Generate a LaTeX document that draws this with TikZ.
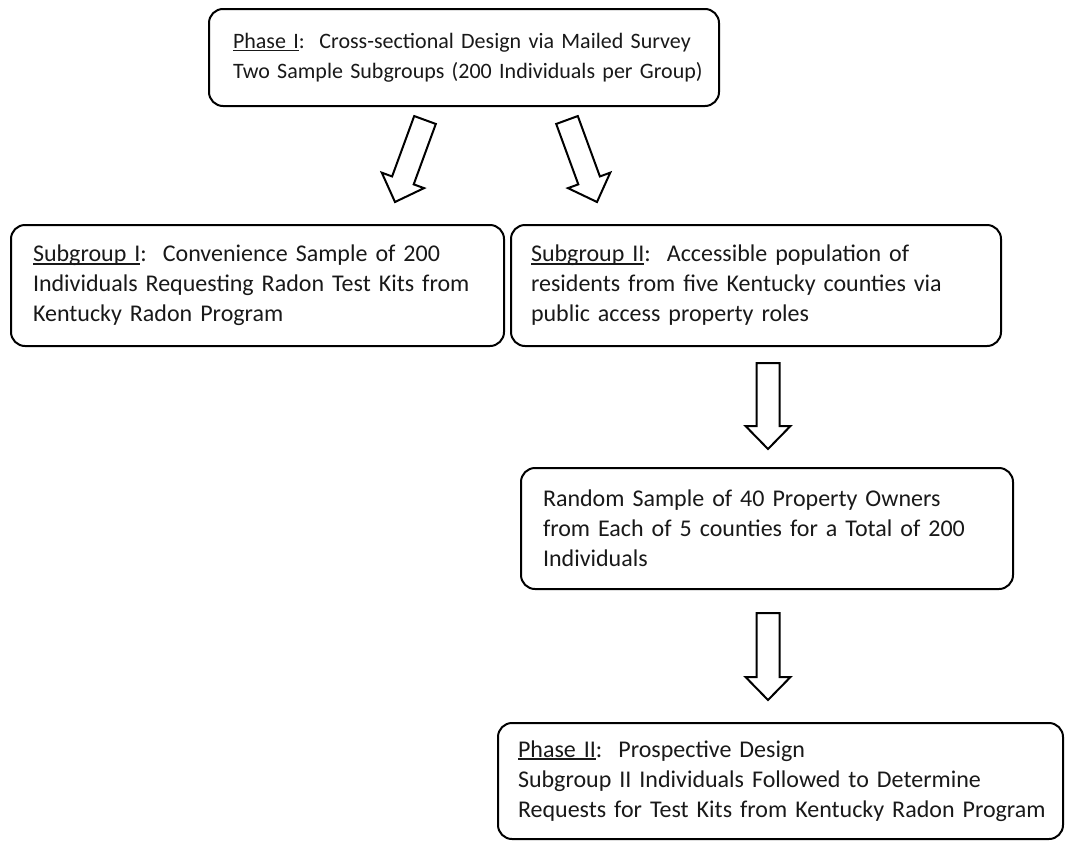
\documentclass[tikz,border=0pt]{standalone}
\usepackage{fontspec}
\setmainfont{Carlito}
\usetikzlibrary{calc}
\newcommand{\myul}[1]{\setbox0\hbox{#1}\rlap{\rule[-2.8pt]{\wd0}{1.6pt}}#1}
\newcommand{\blockarrow}[2]{%
  \coordinate (bh) at ($(#2)!23pt!(#1)$);
  \draw[barrow] ($(#1)!11.5pt!90:(#2)$) -- ($(bh)!11.5pt!90:(#2)$)
    -- ($(bh)!22.5pt!90:(#2)$) -- (#2) -- ($(bh)!22.5pt!-90:(#2)$)
    -- ($(bh)!11.5pt!-90:(#2)$) -- ($(#1)!11.5pt!-90:(#2)$) -- cycle;
}
\begin{document}
\begin{tikzpicture}[x=1pt,y=-1pt,
  box/.style={draw=black, line width=2pt, rounded corners=14pt, align=left,
    inner xsep=22pt, inner ysep=0pt, anchor=north west,
    font=\fontsize{24}{30}\selectfont, text=black!90},
  barrow/.style={draw=black, line width=2pt, fill=white, line join=miter}]
\useasboundingbox (0,0) rectangle (1065,841);
\fill[white] (0,0) rectangle (1065,841);

\node[box, font=\fontsize{22}{29.5}\selectfont, inner xsep=24pt, text width=462pt, minimum height=97pt] (p1) at (208,8)
  {\mbox{\myul{Phase I}:\ \ Cross-sectional Design via Mailed Survey}\\
   \mbox{Two Sample Subgroups (200 Individuals per Group)}};
\node[box, text width=449pt, minimum height=121pt] (s1) at (10,224)
  {\myul{Subgroup I}:\ \ Convenience Sample of 200\\
   Individuals Requesting Radon Test Kits from\\
   Kentucky Radon Program};
\node[box, inner xsep=20pt, text width=450pt, minimum height=121pt] (s2) at (510,224)
  {\myul{Subgroup II}:\ \ Accessible population of\\
   residents from five Kentucky counties via\\
   public access property roles};
\node[box, text width=448pt, minimum height=121pt] (rs) at (520,467)
  {Random Sample of 40 Property Owners\\
   from Each of 5 counties for a Total of 200\\
   Individuals};
\node[box, inner xsep=20pt, text width=525pt, minimum height=116pt] (p2) at (497,722)
  {\myul{Phase II}:\ \ Prospective Design\\
   Subgroup II Individuals Followed to Determine\\
   \mbox{Requests for Test Kits from Kentucky Radon Program}};

\coordinate (a1t) at (425,120);
\coordinate (a1h) at (395,202);
\coordinate (a2t) at (567,120);
\coordinate (a2h) at (597,202);
\coordinate (a3t) at (768,363);
\coordinate (a3h) at (768,449);
\coordinate (a4t) at (768,613);
\coordinate (a4h) at (768,700);
\blockarrow{a1t}{a1h}
\blockarrow{a2t}{a2h}
\blockarrow{a3t}{a3h}
\blockarrow{a4t}{a4h}
\end{tikzpicture}
\end{document}
